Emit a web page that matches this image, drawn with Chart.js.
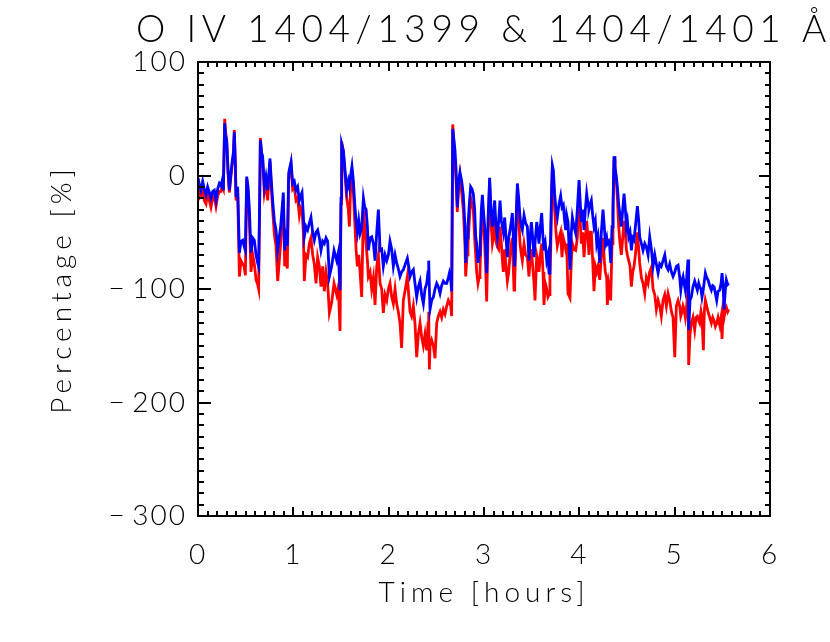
<!DOCTYPE html>
<html>
<head>
<meta charset="utf-8">
<script src="https://cdn.jsdelivr.net/npm/chart.js@4.4.1/dist/chart.umd.min.js"></script>
<style>
  html, body { margin: 0; padding: 0; background: #ffffff; }
  #wrap { width: 830px; height: 642px; }
</style>
</head>
<body>
<div id="wrap"><canvas id="c" width="830" height="642"></canvas></div>
<script>
// ---------------- DATA ----------------
const titleText = 'O IV 1404/1399 & 1404/1401 Å';
const xTitle = 'Time [hours]';
const yTitle = 'Percentage [%]';
const xTickValues = [0, 1, 2, 3, 4, 5, 6];
const yTickValues = [-300, -200, -100, 0, 100];

const hours = [
  0.000,0.014,0.031,0.049,0.066,0.084,0.101,0.119,0.136,0.154,
  0.171,0.189,0.206,0.224,0.241,0.252,0.266,0.280,0.290,0.301,
  0.315,0.329,0.343,0.357,0.371,0.381,0.392,0.399,0.416,0.434,
  0.451,0.469,0.483,0.497,0.511,0.525,0.539,0.556,0.574,0.591,
  0.609,0.626,0.636,0.647,0.654,0.668,0.678,0.696,0.713,0.731,
  0.755,0.769,0.783,0.801,0.818,0.836,0.853,0.867,0.881,0.895,
  0.909,0.923,0.937,0.951,0.965,0.976,0.993,1.010,1.028,1.045,
  1.063,1.077,1.091,1.105,1.115,1.133,1.150,1.168,1.185,1.203,
  1.220,1.238,1.255,1.273,1.290,1.308,1.325,1.343,1.360,1.378,
  1.402,1.427,1.455,1.472,1.490,1.500,1.507,1.525,1.542,1.560,
  1.577,1.588,1.601,1.615,1.630,1.644,1.658,1.672,1.686,1.700,
  1.717,1.735,1.749,1.763,1.777,1.787,1.805,1.822,1.840,1.857,
  1.875,1.892,1.910,1.927,1.944,1.962,1.980,1.997,2.014,2.032,
  2.049,2.067,2.084,2.101,2.119,2.136,2.154,2.175,2.196,2.210,
  2.224,2.241,2.259,2.276,2.294,2.311,2.329,2.346,2.364,2.381,
  2.399,2.413,2.420,2.427,2.434,2.451,2.469,2.486,2.504,2.521,
  2.539,2.556,2.573,2.591,2.609,2.626,2.637,2.651,2.661,2.672,
  2.686,2.696,2.707,2.720,2.734,2.748,2.766,2.783,2.800,
  2.808,2.822,2.832,2.846,2.860,2.874,2.888,2.902,2.913,2.923,
  2.937,2.948,2.958,2.972,2.983,2.993,3.007,3.017,3.028,3.042,
  3.059,3.073,3.088,3.098,3.112,3.126,3.140,3.154,3.168,3.182,
  3.193,3.203,3.217,3.231,3.245,3.259,3.273,3.287,3.297,3.315,
  3.322,3.336,3.350,3.364,3.378,3.392,3.402,3.413,3.420,3.437,
  3.455,3.472,3.483,3.497,3.511,3.525,3.535,3.553,3.566,3.577,
  3.591,3.605,3.619,3.629,3.643,3.658,3.671,3.682,3.692,3.699,
  3.710,3.717,3.727,3.741,3.755,3.769,3.787,3.804,3.818,3.832,
  3.846,3.857,3.867,3.881,3.902,3.916,3.927,3.944,3.962,3.979,
  3.997,4.007,4.021,4.035,4.049,4.063,4.077,4.091,4.101,4.115,
  4.126,4.140,4.154,4.168,4.182,4.196,
  4.214,4.231,4.248,4.262,4.273,4.287,4.294,4.308,4.318,4.329,
  4.343,4.353,4.364,4.374,4.388,4.399,4.413,4.427,4.441,4.455,
  4.469,4.483,4.493,4.504,4.518,4.532,4.546,4.560,4.574,4.588,
  4.609,4.623,4.633,4.651,4.668,4.686,4.703,4.721,4.738,4.756,
  4.773,4.791,4.808,4.826,4.843,4.860,4.878,4.896,4.913,4.931,
  4.948,4.966,4.983,5.001,5.018,5.036,5.053,5.064,5.078,5.088,
  5.099,5.112,5.126,5.140,5.147,5.161,5.175,5.192,5.210,5.224,
  5.238,5.252,5.262,5.276,5.287,5.301,5.311,5.322,5.336,5.350,
  5.367,5.385,5.399,5.413,5.427,5.441,5.455,5.473,5.487,5.497,
  5.507,5.518,5.532,5.542,5.556,5.567
];

// ratio 1404/1401 (blue)
const ratio1401 = [
  -2,-8,-13,-5,-12,-17,-10,-15,-20,-14,
  -13,-22,-12,-7,-9,-5,-13,46,35,31,
  5,-13,0,11,20,38,10,-19,-10,-68,
  -58,-57,-62,-66,-1,-10,-30,-68,-55,-57,
  -70,-77,-80,-20,31,20,17,-10,-1,-13,
  15,-5,-22,-40,-48,-66,-54,-45,-30,-15,
  -66,-55,-62,2,8,12,-7,-5,-13,-10,
  -22,-18,-15,-35,-54,-45,-48,-42,-37,-50,
  -57,-50,-48,-55,-66,-58,-60,-55,-58,-89,
  -80,-66,-75,-68,-101,-20,28,22,5,-13,
  -5,-10,0,8,-5,-25,-40,-50,-40,-51,
  -46,-20,-28,-30,-45,-66,-55,-54,-60,-75,
  -50,-30,-66,-65,-80,-70,-75,-70,-58,-65,
  -80,-70,-77,-82,-89,-85,-83,-78,-73,-80,
  -89,-85,-83,-95,-107,-98,-93,-105,-113,-100,
  -95,-85,-75,-100,-118,-110,-107,-100,-95,-98,
  -104,-97,-93,-95,-95,-90,-86,-92,-102,41,
  30,22,5,-28,-5,3,-5,-17,-45,
  -77,-55,-45,-25,-10,-12,-16,-30,-54,-60,
  -77,-70,-66,-30,-17,-30,-45,-60,-86,-40,
  -2,-30,-45,-35,-22,-45,-54,-40,-22,-40,
  -45,-50,-37,-55,-72,-55,-48,-40,-33,-70,
  -80,-40,-7,-20,-37,-45,-48,-40,-35,-42,
  -45,-75,-55,-41,-55,-72,-60,-41,-50,-60,
  -45,-33,-55,-66,-60,-75,-70,-86,-70,-54,
  -10,9,5,-16,-30,-37,-25,-18,-28,-26,
  -40,-48,-35,-41,-83,-50,-37,-45,-51,-30,
  -4,-20,-41,-30,-48,-30,-16,-25,-30,-25,
  -22,-35,-45,-40,-60,-54,
  -77,-50,-30,-45,-60,-55,-60,-58,-62,-77,
  -45,-26,17,8,-1,-10,-26,-35,-45,-30,
  -16,-30,-45,-40,-54,-50,-66,-55,-57,-45,
  -27,-40,-54,-60,-66,-60,-63,-70,-54,-65,
  -80,-70,-78,-86,-78,-80,-75,-70,-80,-83,
  -78,-85,-89,-85,-80,-79,-90,-101,-92,-89,
  -95,-101,-90,-74,-136,-110,-107,-98,-93,-97,
  -101,-95,-98,-100,-107,-100,-93,-86,-90,-92,
  -97,-101,-97,-98,-104,-110,-102,-101,-95,-86,
  -95,-118,-100,-92,-96,-95
];

// ratio 1404/1399 (red)
const ratio1399 = [
  -8,-20,-18,-12,-22,-25,-15,-22,-28,-20,
  -18,-27,-18,-14,-14,-9,-12,50,38,30,
  2,-15,-3,8,18,40,8,-22,-14,-89,
  -75,-78,-80,-88,-3,-14,-40,-85,-70,-78,
  -92,-96,-100,-25,33,18,14,-15,-6,-22,
  12,-10,-30,-52,-62,-93,-75,-60,-40,-22,
  -80,-72,-82,-4,4,10,-12,-10,-22,-20,
  -35,-28,-30,-50,-93,-70,-72,-60,-55,-70,
  -78,-95,-72,-80,-98,-80,-102,-85,-95,-121,
  -112,-95,-105,-98,-137,-25,30,20,0,-20,
  -30,-45,-10,4,-15,-40,-65,-80,-70,-85,
  -107,-30,-45,-60,-75,-89,-85,-100,-90,-114,
  -80,-70,-95,-100,-121,-105,-110,-100,-95,-107,
  -113,-100,-113,-120,-130,-152,-110,-100,-89,-105,
  -120,-124,-115,-130,-160,-140,-130,-142,-150,-140,
  -154,-130,-120,-171,-150,-145,-150,-161,-130,-124,
  -120,-125,-118,-122,-115,-110,-112,-115,-124,45,
  25,10,-5,-32,-10,0,-15,-30,-60,
  -89,-70,-60,-40,-20,-25,-30,-55,-70,-85,
  -95,-90,-85,-45,-25,-40,-60,-80,-111,-55,
  -5,-40,-60,-55,-40,-58,-63,-65,-45,-60,
  -75,-85,-65,-80,-93,-85,-70,-60,-55,-101,
  -95,-50,-12,-35,-60,-70,-75,-65,-60,-70,
  -72,-89,-75,-65,-80,-95,-110,-70,-75,-85,
  -70,-60,-85,-114,-95,-100,-107,-105,-85,-70,
  -15,8,0,-30,-50,-62,-55,-50,-72,-55,
  -60,-65,-60,-104,-108,-75,-60,-65,-66,-55,
  -10,-35,-60,-50,-72,-55,-40,-55,-70,-50,
  -50,-75,-102,-80,-85,-80,
  -92,-70,-55,-75,-85,-90,-114,-95,-100,-110,
  -60,-35,14,5,-5,-20,-45,-60,-70,-55,
  -40,-50,-65,-70,-75,-80,-98,-85,-80,-70,
  -50,-65,-77,-90,-95,-104,-90,-95,-85,-81,
  -100,-105,-118,-110,-115,-124,-110,-105,-115,-104,
  -110,-120,-125,-160,-115,-110,-115,-124,-120,-115,
  -118,-125,-115,-100,-167,-140,-130,-125,-136,-125,
  -124,-128,-130,-120,-125,-154,-120,-110,-115,-120,
  -125,-130,-125,-128,-133,-130,-125,-132,-125,-144,
  -120,-125,-118,-116,-120,-118
];

// ---------------- STYLE ----------------
const FONT = 'Lato, "DejaVu Sans", sans-serif';
const TICK_SPACING = '2px';
const TITLE_SPACING = '5.6px';
const AXIS_TITLE_SPACING = '5px';

function minusFmt(v) { return v < 0 ? '\u2212\u2009' + Math.abs(v) : String(v); }

const idlFrame = {
  id: 'idlFrame',
  beforeDraw(chart) {
    chart.ctx.letterSpacing = TICK_SPACING;
    const tb = chart.titleBlock;
    if (tb && !tb._patched) {
      const orig = tb.draw.bind(tb);
      tb.draw = function (a) {
        const c = this.ctx; const p = c.letterSpacing;
        const l = this.left, r = this.right;
        // widen the box symmetrically so the spaced title is not squeezed by maxWidth
        this.left = l - 400; this.right = r + 400;
        c.letterSpacing = TITLE_SPACING;
        orig(a);
        c.letterSpacing = p;
        this.left = l; this.right = r;
      };
      tb._patched = true;
    }
    for (const id of ['x', 'y']) {
      const s = chart.scales[id];
      if (s && !s._patched) {
        const o = s.drawTitle.bind(s);
        s.drawTitle = function () { const c = this.ctx; const p = c.letterSpacing; c.letterSpacing = AXIS_TITLE_SPACING; o(); c.letterSpacing = p; };
        s._patched = true;
      }
    }
  },
  afterDraw(chart) {
    const ctx = chart.ctx;
    const xs = chart.scales.x, ys = chart.scales.y;
    const L = xs.left, R = xs.right, T = ys.top, B = ys.bottom;
    ctx.save();
    ctx.strokeStyle = '#000';
    ctx.lineWidth = 2;
    ctx.lineCap = 'butt';
    ctx.beginPath();
    for (let k = 0; k <= 60; k++) {
      const v = k / 10;
      const px = Math.round(xs.getPixelForValue(v));
      const len = (k % 10 === 0) ? 9 : 5;
      ctx.moveTo(px, B); ctx.lineTo(px, B - len);
      ctx.moveTo(px, T); ctx.lineTo(px, T + len);
    }
    for (let k = -30; k <= 10; k++) {
      const v = k * 10;
      const py = Math.round(ys.getPixelForValue(v));
      const major = (k % 10 === 0);
      ctx.moveTo(L, py); ctx.lineTo(L + (major ? 13 : 6), py);
      ctx.moveTo(R, py); ctx.lineTo(R - (major ? 11 : 5), py);
    }
    ctx.stroke();
    ctx.strokeRect(L, T, R - L, B - T);
    ctx.restore();
  }
};

const ctx = document.getElementById('c').getContext('2d');
new Chart(ctx, {
  type: 'line',
  data: {
    datasets: [
      {
        label: '1404/1401',
        data: hours.map((h, i) => ({ x: h, y: ratio1401[i] })),
        borderColor: '#0000ff',
        borderWidth: 2.8,
        pointRadius: 0,
        tension: 0,
        order: 0
      },
      {
        label: '1404/1399',
        data: hours.map((h, i) => ({ x: h, y: ratio1399[i] })),
        borderColor: '#ff0000',
        borderWidth: 2.8,
        pointRadius: 0,
        tension: 0,
        order: 1
      }
    ]
  },
  options: {
    responsive: false,
    animation: false,
    events: [],
    layout: { padding: { left: 0, right: 60, top: 0, bottom: 0 } },
    plugins: {
      legend: { display: false },
      tooltip: { enabled: false },
      title: {
        display: true,
        text: titleText,
        fullSize: false,
        color: '#000',
        font: { family: FONT, size: 37, weight: '300', lineHeight: 1.2 },
        padding: { top: 8, bottom: 9.6 }
      }
    },
    scales: {
      x: {
        type: 'linear',
        min: 0, max: 6,
        afterBuildTicks: s => { s.ticks = xTickValues.map(v => ({ value: v })); },
        afterFit: s => { s.height = 126; },
        grid: { display: false, drawTicks: false },
        border: { display: false },
        ticks: {
          autoSkip: false, maxRotation: 0,
          color: '#000', padding: 22,
          font: { family: FONT, size: 28, weight: '300' },
          callback: v => minusFmt(v)
        },
        title: {
          display: true, text: xTitle, color: '#000',
          font: { family: FONT, size: 28, weight: '300', lineHeight: 1.2 },
          padding: { top: 0, bottom: 32 }
        }
      },
      y: {
        type: 'linear',
        min: -300, max: 100,
        afterBuildTicks: s => { s.ticks = yTickValues.map(v => ({ value: v })); },
        afterFit: s => { s.width = 198; },
        grid: { display: false, drawTicks: false },
        border: { display: false },
        ticks: {
          autoSkip: false,
          color: '#000', padding: 11,
          font: { family: FONT, size: 28, weight: '300' },
          callback: v => minusFmt(v)
        },
        title: {
          display: true, text: yTitle, color: '#000',
          font: { family: FONT, size: 28, weight: '300', lineHeight: 1.2 },
          padding: { top: 45, bottom: 0 }
        }
      }
    }
  },
  plugins: [idlFrame]
});
</script>
</body>
</html>
